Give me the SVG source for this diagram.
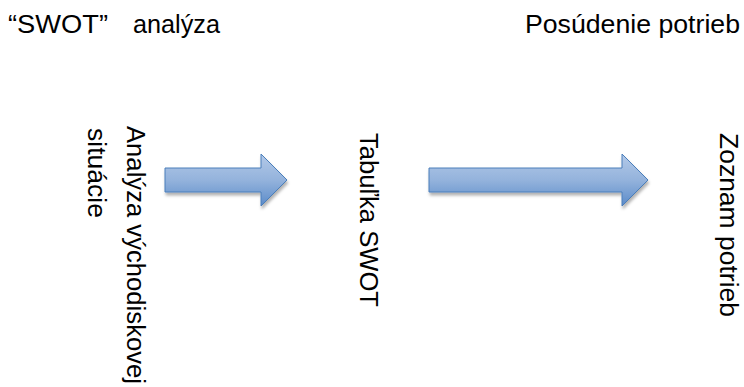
<svg xmlns="http://www.w3.org/2000/svg" width="744" height="387" viewBox="0 0 744 387">
  <style>
    .t { font-family: "Liberation Sans", Arial, sans-serif; font-size: 26px; fill: #000; }
    .arrow { fill: url(#blueGrad); stroke: #4a7ebb; stroke-width: 1; filter: url(#shadow); }
  </style>
  <defs>
    <linearGradient id="blueGrad" x1="0" y1="0" x2="0" y2="1">
      <stop offset="0" stop-color="#b3c9e8"/>
      <stop offset="0.5" stop-color="#94b3dc"/>
      <stop offset="1" stop-color="#5b8bc9"/>
    </linearGradient>
    <filter id="shadow" x="-10%" y="-30%" width="130%" height="170%">
      <feDropShadow dx="1" dy="3" stdDeviation="1.5" flood-color="#000" flood-opacity="0.3"/>
    </filter>
  </defs>

  <g id="title-swot">
    <text class="t" x="8" y="33" textLength="100" lengthAdjust="spacingAndGlyphs">“SWOT”</text>
    <text class="t" x="133" y="33" textLength="87" lengthAdjust="spacingAndGlyphs">analýza</text>
  </g>
  <g id="title-needs">
    <text class="t" x="525" y="33" textLength="215" lengthAdjust="spacingAndGlyphs">Posúdenie potrieb</text>
  </g>

  <g id="node-analyza">
    <text class="t" transform="translate(127,126) rotate(90)" x="0" y="0" textLength="258" lengthAdjust="spacingAndGlyphs">Analýza východiskovej</text>
    <text class="t" transform="translate(88,128) rotate(90)" x="0" y="0" textLength="90" lengthAdjust="spacingAndGlyphs">situácie</text>
  </g>
  <g id="node-tabulka">
    <text class="t" transform="translate(360,133) rotate(90)" x="0" y="0" textLength="174" lengthAdjust="spacingAndGlyphs">Tabuľka SWOT</text>
  </g>
  <g id="node-zoznam">
    <text class="t" transform="translate(720,133) rotate(90)" x="0" y="0" textLength="184" lengthAdjust="spacingAndGlyphs">Zoznam potrieb</text>
  </g>

  <g id="connectors">
    <path class="arrow" d="M165,168 L261,168 L261,154 L287,180 L261,206 L261,192 L165,192 Z"/>
    <path class="arrow" d="M429,168 L622,168 L622,154 L648,180 L622,206 L622,192 L429,192 Z"/>
  </g>
</svg>
